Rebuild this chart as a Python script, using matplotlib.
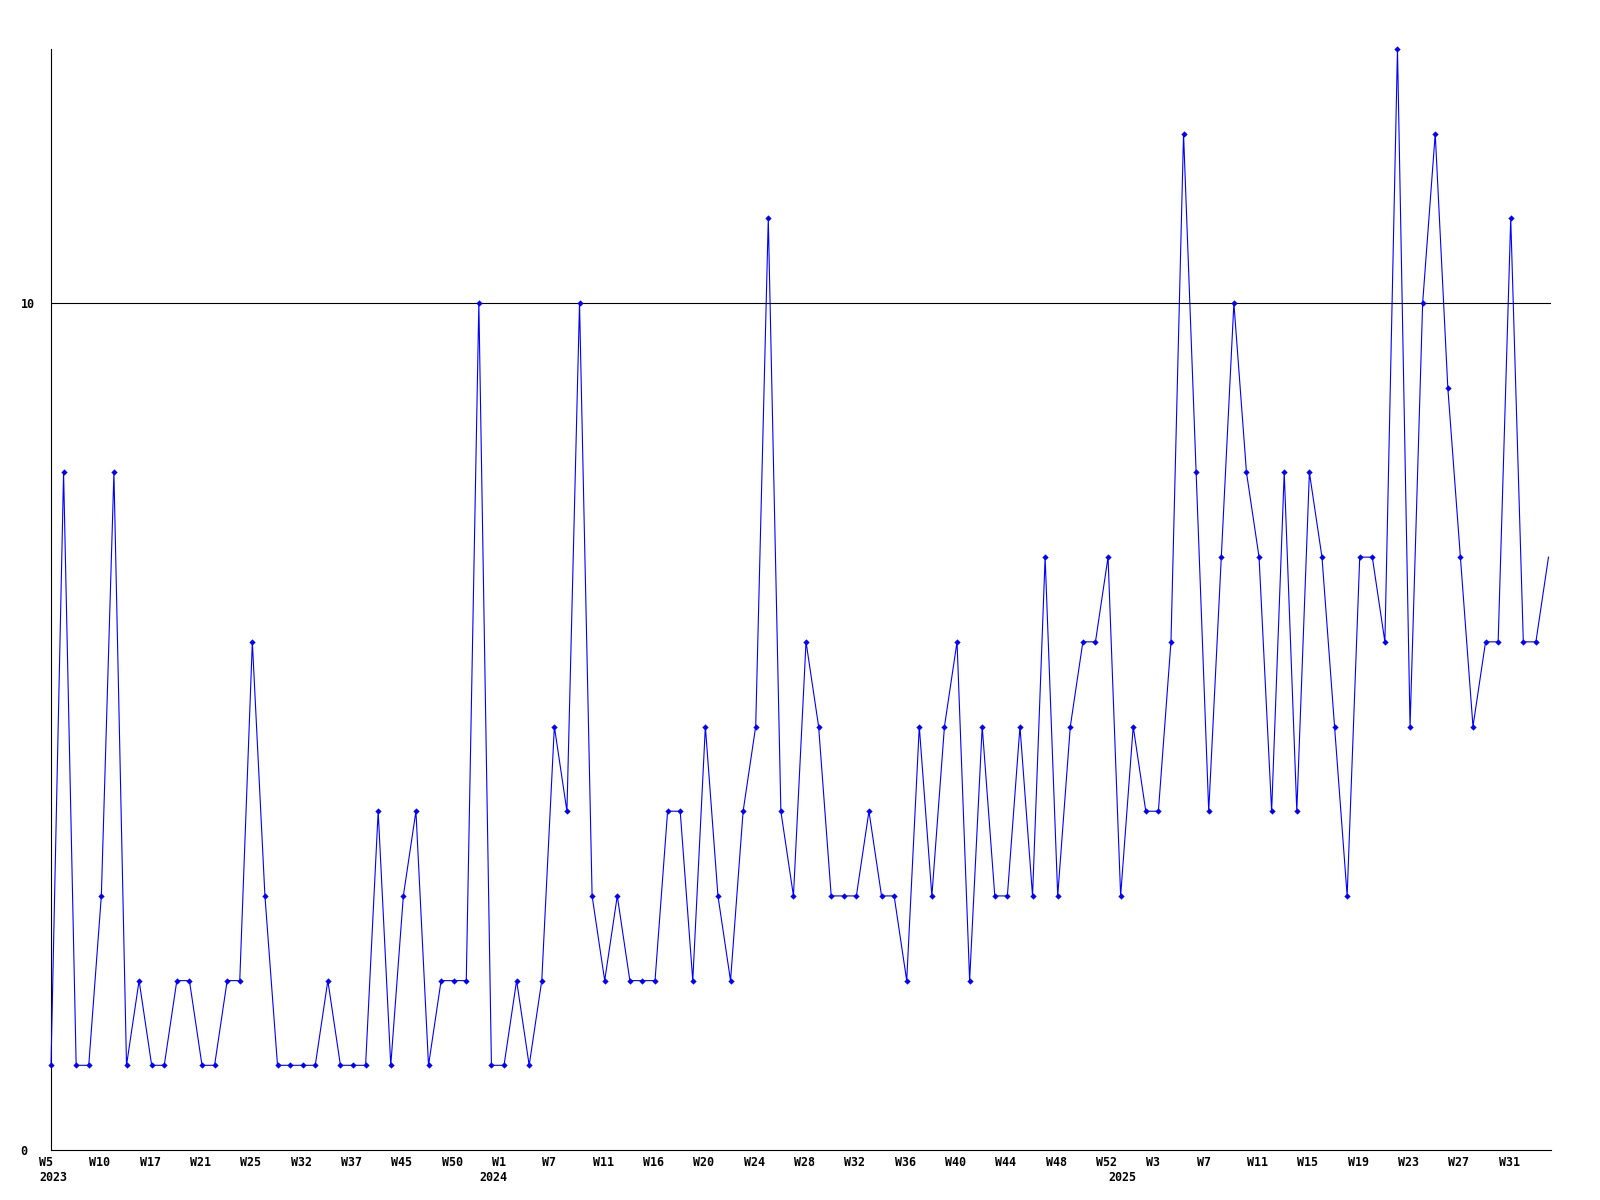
import matplotlib
matplotlib.use("Agg")
import matplotlib.pyplot as plt
from matplotlib.transforms import ScaledTranslation

# ---- data ----
values = [1, 8, 1, 1, 3, 8, 1, 2, 1, 1, 2, 2, 1, 1, 2, 2, 6, 3, 1, 1,
          1, 1, 2, 1, 1, 1, 4, 1, 3, 4, 1, 2, 2, 2, 10, 1, 1, 2, 1, 2,
          5, 4, 10, 3, 2, 3, 2, 2, 2, 4, 4, 2, 5, 3, 2, 4, 5, 11, 4, 3,
          6, 5, 3, 3, 3, 4, 3, 3, 2, 5, 3, 5, 6, 2, 5, 3, 3, 5, 3, 7,
          3, 5, 6, 6, 7, 3, 5, 4, 4, 6, 12, 8, 4, 7, 10, 8, 7, 4, 8, 4,
          8, 7, 5, 3, 7, 7, 6, 13, 5, 10, 12, 9, 7, 5, 6, 6, 11, 6, 6, 7]
week_tick_index = list(range(0, 120, 4))
week_tick_labels = ["W5", "W10", "W17", "W21", "W25", "W32", "W37", "W45", "W50",
                    "W1", "W7", "W11", "W16", "W20", "W24", "W28", "W32", "W36",
                    "W40", "W44", "W48", "W52", "W3", "W7", "W11", "W15", "W19",
                    "W23", "W27", "W31"]
year_tick_index = [0, 35, 85]
year_tick_labels = ["2023", "2024", "2025"]
y_ticks = [0, 10]
y_tick_labels = ["0", "10"]

# ---- figure ----
W, H, DPI = 1600, 1200, 100
fig = plt.figure(figsize=(W / DPI, H / DPI), dpi=DPI)
left, right, top, bottom = 51, 1551, 49, 1150
ax = fig.add_axes([left / W, 1 - bottom / H, (right - left) / W, (bottom - top) / H])

x = list(range(len(values)))
ax.plot(x, values, color="#0000ff", lw=0.8, marker="D", ms=3.2, mew=0,
        markevery=slice(0, len(values) - 1), clip_on=False, zorder=3)

ax.set_xlim(0, len(values) - 0.8)
ax.set_ylim(0, 13)

# reference line at 10
ax.axhline(10, color="black", lw=0.8, zorder=2)

for s in ["top", "right"]:
    ax.spines[s].set_visible(False)
for s in ["left", "bottom"]:
    ax.spines[s].set_linewidth(0.8)
    ax.spines[s].set_color("black")

font = dict(family="DejaVu Sans Mono", weight="bold", size=8.4)

ax.set_yticks(y_ticks)
ax.set_yticklabels(y_tick_labels, **font)
ax.tick_params(axis="y", length=0, pad=22.0)
for lab in ax.get_yticklabels():
    lab.set_horizontalalignment("left")

ax.xaxis.remove_overlapping_locs = False
ax.set_xticks(week_tick_index)
ax.set_xticklabels(week_tick_labels, **font)
ax.set_xticks(year_tick_index, minor=True)
ax.set_xticklabels(year_tick_labels, minor=True, **font)
ax.tick_params(axis="x", which="major", length=0, pad=4.2)
ax.tick_params(axis="x", which="minor", length=0, pad=15.0)

shift = ScaledTranslation(-12 / DPI, 0, fig.dpi_scale_trans)
for t in ax.xaxis.get_major_ticks() + ax.xaxis.get_minor_ticks():
    t.label1.set_horizontalalignment("left")
    t.label1.set_transform(t.label1.get_transform() + shift)

fig.savefig("out.png", dpi=DPI, facecolor="white")
